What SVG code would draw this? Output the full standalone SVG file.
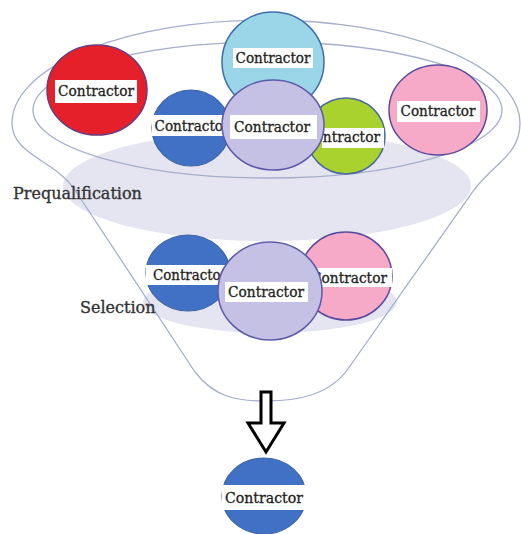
<svg xmlns="http://www.w3.org/2000/svg" width="521" height="534" viewBox="0 0 521 534">
<style>
.funnel{fill:none;stroke:#a6aecb;stroke-width:1.3}
.band{fill:#e4e5f1}
.lbl{fill:#fff}
.t{font-family:"DejaVu Serif","Liberation Serif",serif;font-size:14px;fill:#222;stroke:#222;stroke-width:0.3;text-anchor:middle}
.cap{font-family:"DejaVu Serif","Liberation Serif",serif;font-size:16px;fill:#333;stroke:#333;stroke-width:0.35}
.red{fill:#e6202b;stroke:#6a3c78;stroke-width:1.5}
.cyan{fill:#9ad6e8;stroke:#3e6ea8;stroke-width:1.5}
.blue{fill:#4071c5;stroke:#3d62a3;stroke-width:1.2}
.lav{fill:#c5c1e4;stroke:#5a5aa8;stroke-width:1.5}
.green{fill:#a9d22e;stroke:#4a6aa0;stroke-width:1.5}
.pink{fill:#f7a9c8;stroke:#5a4a9e;stroke-width:1.5}
</style>
<rect width="521" height="534" fill="#fff"/>
<g id="bands">
<ellipse class="band" cx="267" cy="186" rx="204" ry="55"/>
<ellipse class="band" cx="270" cy="302" rx="127" ry="31"/>
</g>
<g id="funnel">
<path class="funnel" d="M195,372 L75,190 C55,160 12,155 12,123 A254 103 0 0 1 520,123 C520,155 494,163 474,190 L350,366 C332,394 300,401 266,401 C238,401 215,398 195,372 Z"/>
<ellipse class="funnel" cx="267.5" cy="110" rx="234.5" ry="68"/>
</g>
<g id="prequalification-label"><text class="cap" x="13" y="199">Prequalification</text></g>
<g id="selection-label"><text class="cap" x="80" y="313">Selection</text></g>
<g id="c-red">
<ellipse class="red" cx="97" cy="90" rx="50" ry="45"/>
<rect class="lbl" x="55" y="80" width="82" height="23"/>
<text class="t" x="96" y="96" textLength="76" lengthAdjust="spacingAndGlyphs">Contractor</text>
</g>
<g id="c-cyan">
<ellipse class="cyan" cx="273" cy="62" rx="51" ry="50"/>
<rect class="lbl" x="233" y="48" width="80" height="20"/>
<text class="t" x="273" y="63" textLength="75" lengthAdjust="spacingAndGlyphs">Contractor</text>
</g>
<g id="c-blue-top">
<ellipse class="blue" cx="191" cy="128" rx="39" ry="38"/>
<rect class="lbl" x="152" y="115" width="78" height="21"/>
<text class="t" x="192" y="131" textLength="75" lengthAdjust="spacingAndGlyphs">Contractor</text>
</g>
<g id="c-green">
<ellipse class="green" cx="346" cy="136" rx="39" ry="38"/>
<rect class="lbl" x="322" y="128" width="62" height="20"/>
<text class="t" x="342" y="142" textLength="76" lengthAdjust="spacingAndGlyphs">Contractor</text>
</g>
<g id="c-pink-top">
<ellipse class="pink" cx="438" cy="110" rx="49" ry="45"/>
<rect class="lbl" x="397" y="101" width="83" height="21"/>
<text class="t" x="438" y="116" textLength="75" lengthAdjust="spacingAndGlyphs">Contractor</text>
</g>
<g id="c-lav-top">
<ellipse class="lav" cx="273" cy="125" rx="51" ry="45"/>
<rect class="lbl" x="230" y="115" width="87" height="24"/>
<text class="t" x="272" y="132" textLength="76" lengthAdjust="spacingAndGlyphs">Contractor</text>
</g>
<g id="c-blue-sel">
<ellipse class="blue" cx="188" cy="273" rx="42" ry="38"/>
<rect class="lbl" x="146" y="265" width="82" height="20"/>
<text class="t" x="190" y="280" textLength="74" lengthAdjust="spacingAndGlyphs">Contractor</text>
</g>
<g id="c-pink-sel">
<ellipse class="pink" cx="346" cy="276" rx="46" ry="44"/>
<rect class="lbl" x="300" y="268" width="92" height="19"/>
<text class="t" x="349" y="283" textLength="76" lengthAdjust="spacingAndGlyphs">Contractor</text>
</g>
<g id="c-lav-sel">
<ellipse class="lav" cx="270" cy="291" rx="52" ry="49"/>
<rect class="lbl" x="225" y="282" width="83" height="20"/>
<text class="t" x="266" y="297" textLength="76" lengthAdjust="spacingAndGlyphs">Contractor</text>
</g>
<g id="connectors">
<path d="M261,392 L271,392 L271,423 L284,423 L266,452 L248,423 L261,423 Z" fill="#fff" stroke="#000" stroke-width="3" stroke-linejoin="miter"/>
</g>
<g id="c-final">
<ellipse class="blue" cx="264" cy="496" rx="42" ry="38"/>
<rect class="lbl" x="222" y="485" width="85" height="25"/>
<text class="t" x="264" y="503" textLength="78" lengthAdjust="spacingAndGlyphs">Contractor</text>
</g>
</svg>
